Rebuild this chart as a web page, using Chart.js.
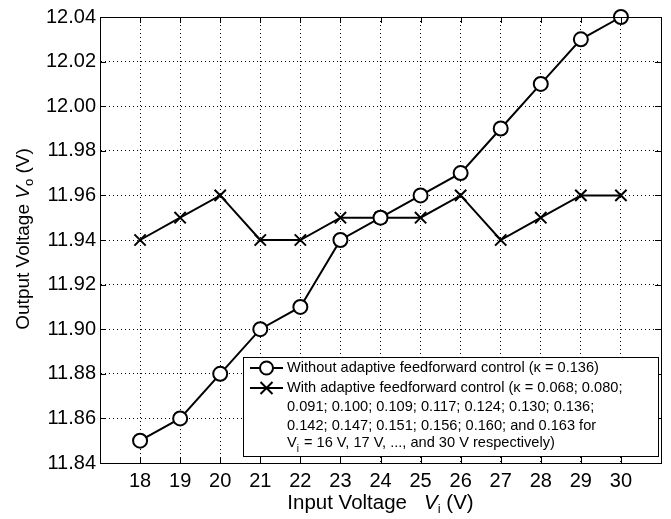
<!DOCTYPE html>
<html>
<head>
<meta charset="utf-8">
<script src="https://cdn.jsdelivr.net/npm/chart.js@4.4.0/dist/chart.umd.min.js"></script>
<style>
  body { margin: 0; background: #fff; }
  #wrap { width: 671px; height: 519px; }
</style>
</head>
<body>
<div id="wrap"><canvas id="chart" width="671" height="519"></canvas></div>
<script>
const inputVoltage = [18, 19, 20, 21, 22, 23, 24, 25, 26, 27, 28, 29, 30];
const withoutAdaptive = [11.85, 11.86, 11.88, 11.90, 11.91, 11.94, 11.95, 11.96, 11.97, 11.99, 12.01, 12.03, 12.04];
const withAdaptive = [11.94, 11.95, 11.96, 11.94, 11.94, 11.95, 11.95, 11.95, 11.96, 11.94, 11.95, 11.96, 11.96];
const xTicks = [18, 19, 20, 21, 22, 23, 24, 25, 26, 27, 28, 29, 30];
const yTicks = [11.84, 11.86, 11.88, 11.90, 11.92, 11.94, 11.96, 11.98, 12.00, 12.02, 12.04];
const legendLines = [
  'Without adaptive feedforward control (\u03BA = 0.136)',
  'With adaptive feedforward control (\u03BA = 0.068; 0.080;',
  '0.091; 0.100; 0.109; 0.117; 0.124; 0.130; 0.136;',
  '0.142; 0.147; 0.151; 0.156; 0.160; and 0.163 for',
];
const legendLast = ['V', 'i', ' = 16 V, 17 V, ..., and 30 V respectively)'];

const FONT = '"Liberation Sans", Arial, Helvetica, sans-serif';

const toPoints = (ys) => inputVoltage.map((x, i) => ({ x: x, y: ys[i] }));

// inward ticks, frame, axis titles and the boxed legend
const decorations = {
  id: 'decorations',
  afterDraw(chart) {
    const ctx = chart.ctx;
    const a = chart.chartArea;
    const xs = chart.scales.x;
    const ys = chart.scales.y;
    ctx.save();
    ctx.strokeStyle = '#000';
    ctx.lineWidth = 1;
    ctx.setLineDash([]);
    ctx.beginPath();
    xTicks.forEach((t) => {
      const px = Math.round(xs.getPixelForValue(t)) + 0.5;
      ctx.moveTo(px, a.bottom); ctx.lineTo(px, a.bottom - 6);
      ctx.moveTo(px, a.top); ctx.lineTo(px, a.top + 6);
    });
    yTicks.forEach((t) => {
      const py = Math.round(ys.getPixelForValue(t)) + 0.5;
      ctx.moveTo(a.left, py); ctx.lineTo(a.left + 6, py);
      ctx.moveTo(a.right, py); ctx.lineTo(a.right - 6, py);
    });
    ctx.stroke();
    ctx.strokeRect(Math.round(a.left) + 0.5, Math.round(a.top) + 0.5,
      Math.round(a.right - a.left), Math.round(a.bottom - a.top));

    // axis titles
    ctx.fillStyle = '#000';
    ctx.textBaseline = 'alphabetic';
    const drawTitle = (parts, cx, cy, rot) => {
      ctx.save();
      ctx.translate(cx, cy);
      ctx.rotate(rot);
      let w = 0;
      parts.forEach((p) => { ctx.font = p.font; w += ctx.measureText(p.text).width; });
      let x = -w / 2;
      parts.forEach((p) => {
        ctx.font = p.font;
        ctx.fillText(p.text, x, p.dy || 0);
        x += ctx.measureText(p.text).width;
      });
      ctx.restore();
    };
    drawTitle([
      { text: 'Input Voltage   ', font: '20.5px ' + FONT },
      { text: 'V', font: 'italic 20.5px ' + FONT },
      { text: 'i', font: '13px ' + FONT, dy: 4 },
      { text: ' (V)', font: '20.5px ' + FONT },
    ], (a.left + a.right) / 2, 509, 0);
    drawTitle([
      { text: 'Output Voltage ', font: '19px ' + FONT },
      { text: 'V', font: 'italic 19px ' + FONT },
      { text: 'o', font: '13px ' + FONT, dy: 4 },
      { text: ' (V)', font: '19px ' + FONT },
    ], 29, (a.top + a.bottom) / 2 - 1, -Math.PI / 2);

    // legend
    const bx = 243, by = 357, bw = 415, bh = 99;
    ctx.fillStyle = '#fff';
    ctx.fillRect(bx, by, bw, bh);
    ctx.strokeRect(bx + 0.5, by + 0.5, bw, bh);
    const rowY = [368, 388, 407, 426, 443];
    ctx.lineWidth = 2;
    ctx.beginPath();
    ctx.moveTo(250, rowY[0]); ctx.lineTo(283, rowY[0]);
    ctx.moveTo(250, rowY[1]); ctx.lineTo(283, rowY[1]);
    ctx.stroke();
    ctx.beginPath();
    ctx.arc(266.5, rowY[0], 6.5, 0, Math.PI * 2);
    ctx.fillStyle = '#fff';
    ctx.fill();
    ctx.stroke();
    ctx.beginPath();
    const c = 6;
    ctx.moveTo(266.5 - c, rowY[1] - c); ctx.lineTo(266.5 + c, rowY[1] + c);
    ctx.moveTo(266.5 - c, rowY[1] + c); ctx.lineTo(266.5 + c, rowY[1] - c);
    ctx.stroke();
    ctx.fillStyle = '#000';
    ctx.textBaseline = 'middle';
    ctx.font = '14.6px ' + FONT;
    legendLines.forEach((t, i) => ctx.fillText(t, 287, rowY[i]));
    let lx = 287;
    ctx.fillText(legendLast[0], lx, rowY[4]);
    lx += ctx.measureText(legendLast[0]).width;
    ctx.font = '10px ' + FONT;
    ctx.fillText(legendLast[1], lx, rowY[4] + 6);
    lx += ctx.measureText(legendLast[1]).width + 1;
    ctx.font = '14.6px ' + FONT;
    ctx.fillText(legendLast[2], lx, rowY[4]);
    ctx.restore();
  }
};

new Chart(document.getElementById('chart').getContext('2d'), {
  type: 'line',
  data: {
    datasets: [
      {
        label: 'Without adaptive feedforward control',
        data: toPoints(withoutAdaptive),
        borderColor: '#000',
        backgroundColor: '#fff',
        borderWidth: 2,
        clip: false,
        pointStyle: 'circle',
        pointRadius: 7,
        pointBorderWidth: 2,
        pointBackgroundColor: '#fff',
        pointBorderColor: '#000',
      },
      {
        label: 'With adaptive feedforward control',
        data: toPoints(withAdaptive),
        borderColor: '#000',
        borderWidth: 2,
        clip: false,
        pointStyle: 'crossRot',
        pointRadius: 8,
        pointBorderWidth: 2,
        pointBorderColor: '#000',
      },
    ],
  },
  options: {
    responsive: false,
    animation: false,
    layout: { padding: { left: 0, top: 17, right: 8, bottom: 0 } },
    plugins: {
      legend: { display: false },
      tooltip: { enabled: false },
    },
    scales: {
      x: {
        type: 'linear',
        min: 17,
        max: 31,
        afterBuildTicks: (s) => { s.ticks = xTicks.map((v) => ({ value: v })); },
        afterFit: (s) => { s.height = 56; },
        ticks: {
          color: '#000',
          padding: 6,
          font: { family: FONT, size: 20 },
          callback: (v) => String(v),
        },
        grid: { color: '#000', lineWidth: 1, drawTicks: false, borderDash: [1, 3] },
        border: { display: true, color: '#000', dash: [1, 3] },
      },
      y: {
        min: 11.84,
        max: 12.04,
        afterBuildTicks: (s) => { s.ticks = yTicks.map((v) => ({ value: v })); },
        afterFit: (s) => { s.width = 100; },
        ticks: {
          color: '#000',
          padding: 4,
          font: { family: FONT, size: 20 },
          callback: (v) => Number(v).toFixed(2),
        },
        grid: { color: '#000', lineWidth: 1, drawTicks: false, borderDash: [1, 3] },
        border: { display: true, color: '#000', dash: [1, 3] },
      },
    },
  },
  plugins: [decorations],
});
</script>
</body>
</html>
